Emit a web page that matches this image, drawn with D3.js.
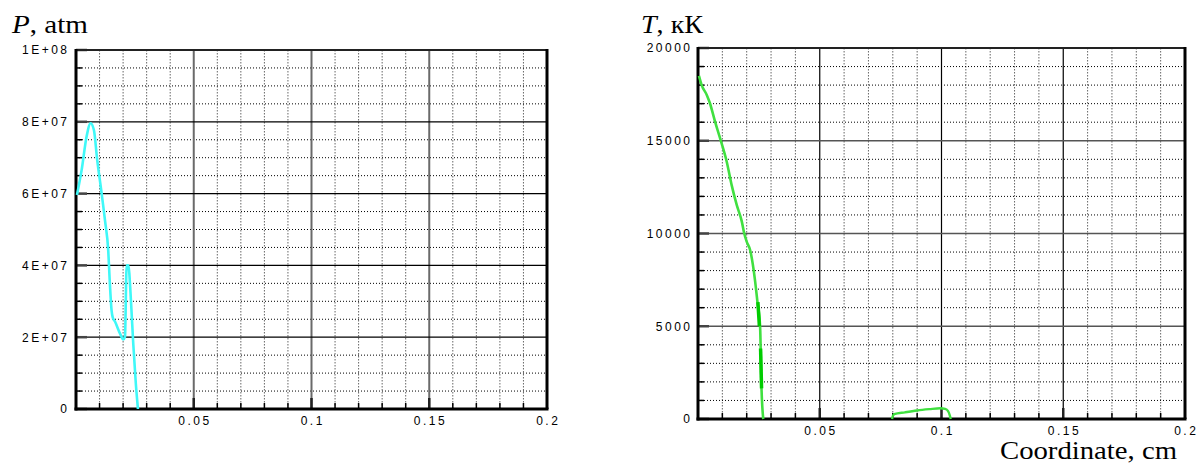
<!DOCTYPE html>
<html><head><meta charset="utf-8">
<script src="https://cdn.jsdelivr.net/npm/d3@7"></script>
<style>body{margin:0;background:#fff}svg{display:block}</style>
</head><body>
<svg id="c" width="1201" height="466"></svg>
<script>
// ---- data ----
const xMajor = [0.05, 0.1, 0.15, 0.2];
const xMajorLabels = ["0.05", "0.1", "0.15", "0.2"];
const pTicks = [0, 2e7, 4e7, 6e7, 8e7, 1e8];
const pTickLabels = ["0", "2E+07", "4E+07", "6E+07", "8E+07", "1E+08"];
const tTicks = [0, 5000, 10000, 15000, 20000];
const tTickLabels = ["0", "5000", "10000", "15000", "20000"];

const pX = [0.0004, 0.0024, 0.0045, 0.0062, 0.0076, 0.009, 0.0109, 0.0123, 0.0137, 0.0143, 0.0151, 0.0156, 0.0166, 0.0187, 0.0201, 0.0208, 0.0215, 0.0222, 0.0234, 0.0243, 0.0254, 0.0263];
const pY = [5.96e7, 6.66e7, 7.59e7, 7.96e7, 7.77e7, 6.94e7, 6.0e7, 5.26e7, 4.4e7, 3.6e7, 2.75e7, 2.55e7, 2.43e7, 2.1e7, 1.94e7, 2.01e7, 4.0e7, 4.0e7, 2.94e7, 1.83e7, 7.1e6, 0];

const tX = [0.0004, 0.0015, 0.0036, 0.0049, 0.007, 0.0094, 0.0118, 0.0138, 0.0159, 0.018, 0.0189, 0.02, 0.0214, 0.0234, 0.0244, 0.0255, 0.0261, 0.0268];
const tY = [18500, 18000, 17470, 17020, 16030, 14990, 13870, 12620, 11540, 10640, 10050, 9560, 9110, 7490, 6320, 4980, 1560, 0];
const tDense1X = [0.0246, 0.0252];
const tDense1Y = [6300, 5000];
const tDense2X = [0.0257, 0.0261];
const tDense2Y = [3800, 1650];
const bumpX = [0.0797, 0.0800, 0.0806, 0.085, 0.09, 0.095, 0.0995, 0.1015, 0.1027, 0.1034, 0.1038];
const bumpY = [0, 150, 260, 360, 460, 530, 580, 545, 420, 200, 0];

const svg = d3.select("#c");

function panel(cfg) {
  const g = svg.append("g");
  const x = d3.scaleLinear().domain([0, 0.2]).range([cfg.L, cfg.R]);
  const y = d3.scaleLinear().domain([0, cfg.ymax]).range([cfg.B, cfg.T]);
  const xMinor = d3.range(1, 20).map(i => i / 100).filter(v => Math.abs(v * 20 - Math.round(v * 20)) > 1e-6);
  const yMinor = d3.range(1, Math.round(cfg.ymax / cfg.yMinorStep)).map(i => i * cfg.yMinorStep)
      .filter(v => Math.abs(v / cfg.yMajorStep - Math.round(v / cfg.yMajorStep)) > 1e-6);
  const yMajorInner = cfg.yTicks.filter(v => v > 0 && v < cfg.ymax);
  const xMajorInner = xMajor.filter(v => v < 0.2);

  // minor grid
  g.selectAll(".vmin").data(xMinor).join("line")
    .attr("x1", d => x(d)).attr("x2", d => x(d)).attr("y1", cfg.T).attr("y2", cfg.B)
    .attr("stroke", "#666").attr("stroke-width", 1).attr("stroke-dasharray", "1.5,1.5");
  g.selectAll(".hmin").data(yMinor).join("line")
    .attr("x1", cfg.L).attr("x2", cfg.R).attr("y1", d => y(d)).attr("y2", d => y(d))
    .attr("stroke", "#000").attr("stroke-width", 1).attr("stroke-dasharray", "1,2");
  // major grid
  g.selectAll(".vmaj").data(xMajorInner).join("line")
    .attr("x1", d => x(d)).attr("x2", d => x(d)).attr("y1", cfg.T).attr("y2", cfg.B)
    .attr("stroke", cfg.vMajColor).attr("stroke-width", cfg.vMajW);
  g.selectAll(".hmaj").data(yMajorInner).join("line")
    .attr("x1", cfg.L).attr("x2", cfg.R).attr("y1", d => y(d)).attr("y2", d => y(d))
    .attr("stroke", cfg.hMajColor).attr("stroke-width", cfg.hMajW);

  // ticks
  g.selectAll(".ytmin").data(yMinor).join("line")
    .attr("x1", cfg.L).attr("x2", cfg.L + 6).attr("y1", d => y(d)).attr("y2", d => y(d))
    .attr("stroke", "#000").attr("stroke-width", 1.5);
  g.selectAll(".ytmaj").data(cfg.yTicks).join("line")
    .attr("x1", cfg.L).attr("x2", cfg.L + 11).attr("y1", d => y(d)).attr("y2", d => y(d))
    .attr("stroke", "#444").attr("stroke-width", 2.5);
  g.selectAll(".xtmin").data(xMinor).join("line")
    .attr("x1", d => x(d)).attr("x2", d => x(d)).attr("y1", cfg.B).attr("y2", cfg.B - 6)
    .attr("stroke", "#000").attr("stroke-width", 1.5);
  g.selectAll(".xtmaj").data(xMajorInner).join("line")
    .attr("x1", d => x(d)).attr("x2", d => x(d)).attr("y1", cfg.B).attr("y2", cfg.B - 11)
    .attr("stroke", "#222").attr("stroke-width", 2.5);

  // frame
  g.append("line").attr("x1", cfg.L).attr("x2", cfg.R).attr("y1", cfg.T).attr("y2", cfg.T)
    .attr("stroke", "#222").attr("stroke-width", 2);
  g.append("line").attr("x1", cfg.R).attr("x2", cfg.R).attr("y1", cfg.T - 1).attr("y2", cfg.B)
    .attr("stroke", "#000").attr("stroke-width", 3);
  g.append("line").attr("x1", cfg.L).attr("x2", cfg.L).attr("y1", cfg.T - 1).attr("y2", cfg.B + 1.5)
    .attr("stroke", "#000").attr("stroke-width", 3);
  g.append("line").attr("x1", cfg.L - 1.5).attr("x2", cfg.R + 1.5).attr("y1", cfg.B).attr("y2", cfg.B)
    .attr("stroke", "#000").attr("stroke-width", 3);

  // tick labels
  const ls = 2.5;
  g.selectAll(".ylab").data(cfg.yTicks).join("text")
    .attr("x", cfg.labelRight + ls).attr("y", d => y(d)).attr("dy", "0.36em")
    .attr("text-anchor", "end").attr("font-family", "Liberation Sans, Arial, sans-serif")
    .attr("font-size", 12).attr("letter-spacing", ls).attr("fill", "#000")
    .text((d, i) => cfg.yLabels[i]);
  g.selectAll(".xlab").data(xMajor).join("text")
    .attr("x", d => x(d) + ls / 2).attr("y", cfg.xLabelY)
    .attr("text-anchor", "middle").attr("font-family", "Liberation Sans, Arial, sans-serif")
    .attr("font-size", 12).attr("letter-spacing", ls).attr("fill", "#000")
    .text((d, i) => xMajorLabels[i]);

  return {g, x, y};
}

// ---- left panel: pressure ----
const P = panel({L: 76, R: 547, T: 50, B: 409, ymax: 1e8, yTicks: pTicks, yLabels: pTickLabels,
  yMinorStep: 5e6, yMajorStep: 2e7, labelRight: 67, xLabelY: 425,
  vMajColor: "#6a6a6a", vMajW: 2, hMajColor: "#000", hMajW: 1.2});
const pLine = d3.line().x(d => P.x(d[0])).y(d => P.y(d[1])).curve(d3.curveMonotoneX);
P.g.append("path").datum(pX.map((v, i) => [v, pY[i]])).attr("d", pLine)
  .attr("fill", "none").attr("stroke", "#3ff8f8").attr("stroke-width", 2.6).attr("stroke-linejoin", "round");

// ---- right panel: temperature ----
const T = panel({L: 698, R: 1185, T: 48, B: 419, ymax: 20000, yTicks: tTicks, yLabels: tTickLabels,
  yMinorStep: 1000, yMajorStep: 5000, labelRight: 690, xLabelY: 435,
  vMajColor: "#000", vMajW: 1.2, hMajColor: "#555", hMajW: 1.6});
const tLine = d3.line().x(d => T.x(d[0])).y(d => T.y(d[1])).curve(d3.curveMonotoneX);
T.g.append("path").datum(tX.map((v, i) => [v, tY[i]])).attr("d", tLine)
  .attr("fill", "none").attr("stroke", "#40e040").attr("stroke-width", 2.6).attr("stroke-linejoin", "round");
[[tDense1X, tDense1Y], [tDense2X, tDense2Y]].forEach(([xs, ys]) => {
  T.g.append("path").datum(xs.map((v, i) => [v, ys[i]])).attr("d", d3.line().x(d => T.x(d[0])).y(d => T.y(d[1])))
    .attr("fill", "none").attr("stroke", "#00cc00").attr("stroke-width", 3.5);
});
T.g.append("path").datum(bumpX.map((v, i) => [v, bumpY[i]])).attr("d", tLine)
  .attr("fill", "none").attr("stroke", "#40e040").attr("stroke-width", 2.4).attr("stroke-linejoin", "round");

// ---- titles ----
const serif = "Liberation Serif, Times New Roman, serif";
const t1 = svg.append("text").attr("x", 12).attr("y", 33).attr("font-family", serif).attr("font-size", 26)
  .attr("textLength", 76).attr("lengthAdjust", "spacingAndGlyphs");
t1.append("tspan").attr("font-style", "italic").text("P");
t1.append("tspan").text(", atm");
const t2 = svg.append("text").attr("x", 641).attr("y", 33).attr("font-family", serif).attr("font-size", 26)
  .attr("textLength", 62).attr("lengthAdjust", "spacingAndGlyphs");
t2.append("tspan").attr("font-style", "italic").text("T");
t2.append("tspan").text(", кК");
svg.append("text").attr("x", 1000).attr("y", 459).attr("font-family", serif).attr("font-size", 26)
  .attr("textLength", 177).attr("lengthAdjust", "spacingAndGlyphs").text("Coordinate, cm");
</script>
</body></html>
